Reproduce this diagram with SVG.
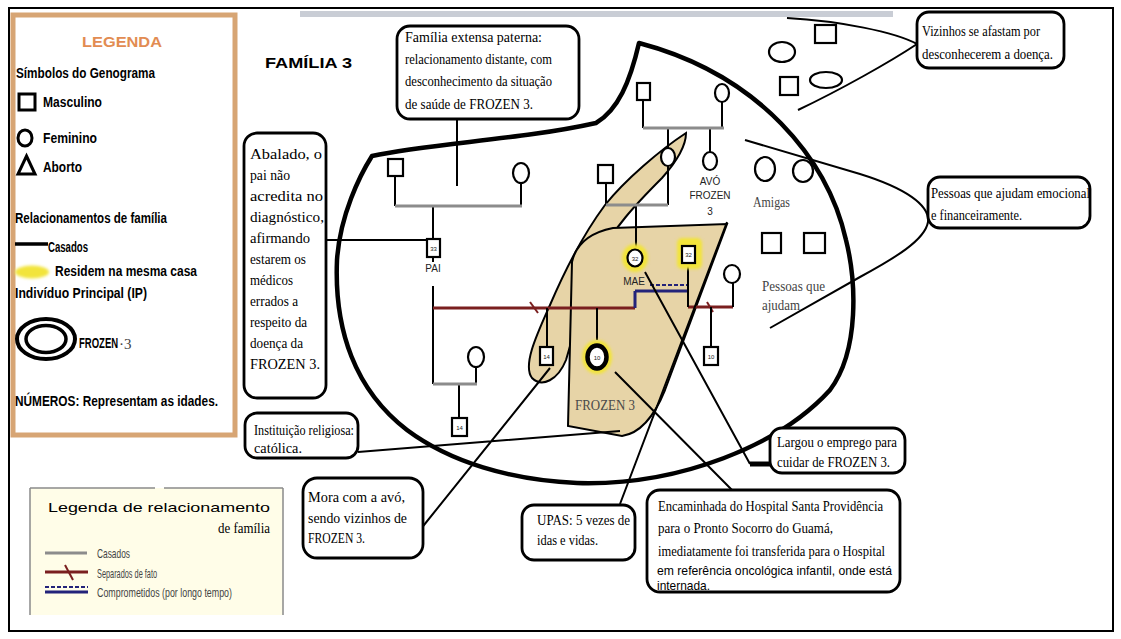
<svg xmlns="http://www.w3.org/2000/svg" width="1121" height="639" viewBox="0 0 1121 639">
<defs>
  <filter id="glow" x="-30%" y="-30%" width="160%" height="160%">
    <feGaussianBlur stdDeviation="1.4"/>
  </filter>
</defs>
<style>
  .box{fill:#fff;stroke:#000;stroke-width:2.8}
  .t{font-family:"Liberation Serif",serif;font-size:15px;fill:#000}
  .ts{font-family:"Liberation Sans",sans-serif;font-size:13px;fill:#000}
  .lg{font-family:"Liberation Sans",sans-serif;font-weight:bold;font-size:14px;fill:#000}
  .lb{font-family:"Liberation Sans",sans-serif;font-size:10px;fill:#222;text-anchor:middle}
  .age{font-family:"Liberation Sans",sans-serif;font-size:6px;fill:#222;text-anchor:middle}
  .ln{stroke:#000;stroke-width:2;fill:none}
  .gray{stroke:#8c8c8c;stroke-width:3;fill:none}
  .red{stroke:#7a1f1f;stroke-width:3;fill:none}
  .navy{stroke:#23237a;stroke-width:3;fill:none}
  .sym{fill:#fff;stroke:#000;stroke-width:2.2}
  .tan{fill:#e7d4a7;stroke:#000;stroke-width:2}
  .halo{fill:#f2e43a;filter:url(#glow)}
  .soft{font-family:"Liberation Serif",serif;font-size:15px;fill:#444}
</style>

<!-- page frame and header bar -->
<rect x="9" y="8" width="1104" height="623" fill="#fff" stroke="#000" stroke-width="2"/>
<rect x="300" y="11" width="593" height="6" fill="#c9cdd5"/>

<!-- symbol legend -->
<g id="legenda">
  <rect x="13" y="15" width="222" height="420" fill="#fff" stroke="#d7a574" stroke-width="5"/>
  <text x="82" y="47" class="lg" font-size="19" style="fill:#e28c52" textLength="80" lengthAdjust="spacingAndGlyphs">LEGENDA</text>
  <text x="16" y="78" class="lg" textLength="139" lengthAdjust="spacingAndGlyphs">Símbolos do Genograma</text>
  <rect x="19" y="94" width="16" height="16" fill="#fff" stroke="#000" stroke-width="3"/>
  <text x="43" y="107" class="lg" textLength="59" lengthAdjust="spacingAndGlyphs">Masculino</text>
  <ellipse cx="25" cy="138" rx="7" ry="8" fill="#fff" stroke="#000" stroke-width="3"/>
  <text x="43" y="143" class="lg" textLength="54" lengthAdjust="spacingAndGlyphs">Feminino</text>
  <polygon points="26.5,156 35,174 18,174" fill="#fff" stroke="#000" stroke-width="3"/>
  <text x="43" y="172" class="lg" textLength="39" lengthAdjust="spacingAndGlyphs">Aborto</text>
  <text x="15" y="223" class="lg" textLength="152" lengthAdjust="spacingAndGlyphs">Relacionamentos de família</text>
  <line x1="15" y1="244" x2="48" y2="244" stroke="#000" stroke-width="3.5"/>
  <text x="48" y="252" class="lg" textLength="40" lengthAdjust="spacingAndGlyphs">Casados</text>
  <ellipse cx="32" cy="272" rx="17" ry="6.5" class="halo"/>
  <text x="55" y="276" class="lg" textLength="142" lengthAdjust="spacingAndGlyphs">Residem na mesma casa</text>
  <text x="15" y="298" class="lg" textLength="132" lengthAdjust="spacingAndGlyphs">Indivíduo Principal  (IP)</text>
  <ellipse cx="46" cy="339" rx="29" ry="20" fill="#fff" stroke="#000" stroke-width="4"/>
  <ellipse cx="46" cy="339" rx="20" ry="13.5" fill="#fff" stroke="#000" stroke-width="3.5"/>
  <text transform="translate(79,348) scale(0.68,1)" class="lg" font-size="13">FROZEN</text>
  <text x="119" y="349" class="t" font-size="16" style="fill:#444">·3</text>
  <text x="15" y="406" class="lg" textLength="203" lengthAdjust="spacingAndGlyphs">NÚMEROS: Representam as idades.</text>
</g>

<!-- relationship legend -->
<g id="legenda-relacionamento">
  <rect x="30" y="488" width="253" height="127" fill="#fffde8"/>
  <path d="M30,488 H155 M164,488 H283 M30,488 V615 M283,488 V615" stroke="#8a8a8a" stroke-width="1.5" fill="none"/>
  <text x="48" y="512" class="ts" font-size="21" textLength="222" lengthAdjust="spacingAndGlyphs">Legenda de relacionamento</text>
  <text x="218" y="533" class="t" font-size="14" textLength="52" lengthAdjust="spacingAndGlyphs">de família</text>
  <line x1="45" y1="553" x2="87" y2="553" class="gray"/>
  <text x="97" y="558" class="ts" font-size="10" style="fill:#444" textLength="33" lengthAdjust="spacingAndGlyphs">Casados</text>
  <line x1="45" y1="572" x2="88" y2="572" class="red"/>
  <line x1="65" y1="565" x2="73" y2="580" stroke="#7a1f1f" stroke-width="2"/>
  <text x="97" y="578" class="ts" font-size="10" style="fill:#444" textLength="60" lengthAdjust="spacingAndGlyphs">Separados de fato</text>
  <line x1="45" y1="587" x2="88" y2="587" stroke="#23237a" stroke-width="2" stroke-dasharray="4 2"/>
  <line x1="45" y1="592" x2="88" y2="592" class="navy"/>
  <text x="97" y="597" class="ts" font-size="10" style="fill:#444" textLength="135" lengthAdjust="spacingAndGlyphs">Comprometidos (por longo tempo)</text>
</g>

<text id="titulo" x="265" y="68" class="lg" font-size="21" textLength="87" lengthAdjust="spacingAndGlyphs">FAMÍLIA 3</text>

<!-- shaded household areas -->
<g id="areas">
  <path class="tan" d="M686,133 C660,150 625,180 605,205 C585,232 565,270 550,305 C538,332 522,365 532,378 C542,388 558,380 566,360 C575,330 582,300 592,270 C610,230 640,200 662,178 C678,160 686,145 686,133 Z"/>
  <path class="tan" d="M613,228 L727,224 L665,390 Q648,432 622,436 L568,426 L572,262 Q578,235 613,228 Z"/>
  <text x="575" y="410" class="t" font-size="16" style="fill:#4a4a4a" textLength="60" lengthAdjust="spacingAndGlyphs">FROZEN 3</text>
</g>

<!-- family boundary -->
<path id="limite-familia" d="M372,156 C360,175 340,215 337,260 C334,330 355,390 407,430 C450,462 510,480 577,483 C680,486 780,445 830,390 C860,350 856,280 846,240 C828,160 760,75 639,43 C630,82 618,110 596,123 C520,140 430,143 372,156 Z" fill="none" stroke="#000" stroke-width="4.5" stroke-linejoin="round"/>

<!-- connectors and family lines -->
<g id="conectores">
  <!-- paternal grandparents -->
  <path class="ln" d="M395,176 V206 M521,183 V206 M433,206 V239 M433,258 V262 M433,286 V384 M476,367 V384 M459,384 V418"/>
  <path class="gray" d="M395,206 H522 M433,384 H477"/>
  <!-- maternal grandparents -->
  <path class="ln" d="M643,100 V128 M722,102 V128 M668,128 V148 M710,128 V152 M606,183 V205 M668,166 V205 M636,205 V249"/>
  <path class="gray" d="M643,128 H724 M606,205 H668"/>
  <!-- separations and commitment -->
  <path class="red" d="M433,308 H635 M688,307 H733"/>
  <line x1="530" y1="302" x2="538" y2="313" stroke="#7a1f1f" stroke-width="2"/>
  <line x1="707" y1="302" x2="713" y2="312" stroke="#7a1f1f" stroke-width="2"/>
  <path class="navy" d="M635,291 H688 M635,291 V308"/>
  <line x1="650" y1="285" x2="688" y2="285" stroke="#23237a" stroke-width="2" stroke-dasharray="4 2"/>
  <path class="ln" d="M688,263 V307 M733,283 V307 M547,308 V347 M597,308 V340 M711,307 V347"/>
  <!-- callout leaders -->
  <path class="ln" d="M457,119 V186 M326,240 H427 M358,452 L620,431 M420,530 L550,368 M620,504 L727,222 M615,372 L732,490 M645,272 L750,464"/>
  <line x1="750" y1="464" x2="771" y2="464" stroke="#000" stroke-width="5"/>
  <path class="ln" d="M787,18 C840,21 895,32 917,44 C890,62 840,90 798,110"/>
  <path class="ln" d="M745,140 L860,174 C905,188 930,205 928,222 C925,240 895,258 860,277 L770,328"/>
</g>

<!-- genogram members -->
<g id="avos-paternos">
  <rect x="388" y="159" width="15" height="17" class="sym"/>
  <ellipse cx="521" cy="173" rx="8" ry="10" class="sym"/>
</g>
<g id="pai">
  <rect x="427" y="239" width="13" height="18" class="sym"/>
  <text x="433.5" y="251" class="age">33</text>
  <text x="433" y="272" class="lb">PAI</text>
</g>
<g id="nova-familia-pai">
  <ellipse cx="476" cy="357" rx="8" ry="10" class="sym"/>
  <rect x="452" y="418" width="15" height="18" class="sym"/>
  <text x="459.5" y="430" class="age">14</text>
</g>
<g id="avos-maternos">
  <rect x="637" y="83" width="13" height="17" class="sym"/>
  <ellipse cx="722" cy="93" rx="7" ry="9" class="sym"/>
  <rect x="598" y="165" width="15" height="18" class="sym"/>
  <ellipse cx="668" cy="157" rx="7" ry="9" class="sym"/>
</g>
<g id="avo">
  <ellipse cx="710" cy="161" rx="7" ry="9" class="sym"/>
  <text x="710" y="185" class="lb" font-size="11">AVÓ</text>
  <text x="710" y="199" class="lb">FROZEN</text>
  <text x="710" y="215" class="lb">3</text>
</g>
<g id="mae">
  <ellipse cx="635" cy="258" rx="13" ry="14" class="halo"/>
  <ellipse cx="635" cy="258" rx="7.5" ry="8.5" class="sym"/>
  <text x="635" y="260.5" class="age">32</text>
  <text x="634" y="285" class="lb">MAE</text>
</g>
<g id="companheiro">
  <rect x="677" y="238" width="25" height="31" rx="5" class="halo"/>
  <rect x="682" y="246" width="13" height="17" class="sym"/>
  <text x="688.5" y="257" class="age">32</text>
</g>
<g id="ex-companheira">
  <ellipse cx="732" cy="274" rx="8" ry="9" class="sym"/>
</g>
<g id="irmao-14">
  <rect x="540" y="347" width="13" height="18" class="sym"/>
  <text x="546.5" y="359" class="age">14</text>
</g>
<g id="irmao-10">
  <rect x="704" y="347" width="14" height="18" class="sym"/>
  <text x="711" y="359" class="age">10</text>
</g>
<g id="frozen3">
  <ellipse cx="597" cy="357" rx="15" ry="17" class="halo"/>
  <ellipse cx="597" cy="357" rx="9.5" ry="11.5" fill="#fff" stroke="#000" stroke-width="4.5"/>
  <text x="597" y="359.5" class="age">10</text>
</g>

<!-- neighbours, friends and helpers -->
<g id="vizinhos">
  <ellipse cx="782" cy="52" rx="13" ry="10" class="sym"/>
  <rect x="815" y="25" width="21" height="18" class="sym"/>
  <rect x="780" y="77" width="18" height="18" class="sym"/>
  <ellipse cx="826" cy="80" rx="16" ry="8" class="sym"/>
</g>
<g id="amigas">
  <ellipse cx="765" cy="169" rx="10" ry="12" class="sym"/>
  <ellipse cx="803" cy="171" rx="10" ry="11" class="sym"/>
  <text x="753" y="207" class="soft" textLength="37" lengthAdjust="spacingAndGlyphs">Amigas</text>
</g>
<g id="pessoas-que-ajudam">
  <rect x="762" y="233" width="19" height="20" class="sym"/>
  <rect x="804" y="233" width="21" height="20" class="sym"/>
  <text x="762" y="291" class="soft" textLength="63" lengthAdjust="spacingAndGlyphs">Pessoas que</text>
  <text x="762" y="310" class="soft" textLength="38" lengthAdjust="spacingAndGlyphs">ajudam</text>
</g>

<!-- callouts -->
<g id="nota-familia-extensa">
  <rect x="397" y="26" width="182" height="93" rx="13" class="box"/>
  <text x="405" y="42" class="t" textLength="137" lengthAdjust="spacingAndGlyphs">Família extensa paterna:</text>
  <text x="405" y="64" class="t" textLength="147" lengthAdjust="spacingAndGlyphs">relacionamento distante, com</text>
  <text x="405" y="86" class="t" textLength="147" lengthAdjust="spacingAndGlyphs">desconhecimento da situação</text>
  <text x="405" y="109" class="t" textLength="128" lengthAdjust="spacingAndGlyphs">de saúde de FROZEN 3.</text>
</g>
<g id="nota-pai">
  <rect x="244" y="133" width="82" height="265" rx="13" class="box"/>
  <text x="250" y="159" class="t" textLength="72" lengthAdjust="spacingAndGlyphs">Abalado, o</text>
  <text x="250" y="180" class="t" textLength="40" lengthAdjust="spacingAndGlyphs">pai não</text>
  <text x="250" y="201" class="t" textLength="73" lengthAdjust="spacingAndGlyphs">acredita no</text>
  <text x="250" y="222" class="t" textLength="74" lengthAdjust="spacingAndGlyphs">diagnóstico,</text>
  <text x="250" y="243" class="t" textLength="60" lengthAdjust="spacingAndGlyphs">afirmando</text>
  <text x="250" y="264" class="t" textLength="56" lengthAdjust="spacingAndGlyphs">estarem os</text>
  <text x="250" y="285" class="t" textLength="43" lengthAdjust="spacingAndGlyphs">médicos</text>
  <text x="250" y="306" class="t" textLength="48" lengthAdjust="spacingAndGlyphs">errados a</text>
  <text x="250" y="327" class="t" textLength="57" lengthAdjust="spacingAndGlyphs">respeito da</text>
  <text x="250" y="348" class="t" textLength="53" lengthAdjust="spacingAndGlyphs">doença da</text>
  <text x="250" y="369" class="t" textLength="70" lengthAdjust="spacingAndGlyphs">FROZEN 3.</text>
</g>
<g id="nota-religiao">
  <rect x="245" y="413" width="113" height="45" rx="12" class="box"/>
  <text x="254" y="435" class="t" textLength="100" lengthAdjust="spacingAndGlyphs">Instituição religiosa:</text>
  <text x="254" y="453" class="t" textLength="48" lengthAdjust="spacingAndGlyphs">católica.</text>
</g>
<g id="nota-irmao">
  <rect x="303" y="478" width="120" height="80" rx="14" class="box"/>
  <text x="308" y="502" class="t" textLength="97" lengthAdjust="spacingAndGlyphs">Mora com a avó,</text>
  <text x="308" y="523" class="t" textLength="99" lengthAdjust="spacingAndGlyphs">sendo vizinhos de</text>
  <text x="308" y="543" class="t" textLength="57" lengthAdjust="spacingAndGlyphs">FROZEN 3.</text>
</g>
<g id="nota-upas">
  <rect x="522" y="505" width="113" height="55" rx="12" class="box"/>
  <text x="537" y="525" class="t" textLength="93" lengthAdjust="spacingAndGlyphs">UPAS: 5 vezes de</text>
  <text x="537" y="545" class="t" textLength="61" lengthAdjust="spacingAndGlyphs">idas e vidas.</text>
</g>
<g id="nota-hospital">
  <rect x="647" y="490" width="253" height="102" rx="13" class="box"/>
  <text x="658" y="511" class="t" textLength="225" lengthAdjust="spacingAndGlyphs">Encaminhada do Hospital Santa Providência</text>
  <text x="658" y="533" class="t" textLength="175" lengthAdjust="spacingAndGlyphs">para o Pronto Socorro do Guamá,</text>
  <text x="658" y="556" class="t" textLength="227" lengthAdjust="spacingAndGlyphs">imediatamente foi transferida para o Hospital</text>
  <text x="657" y="575" class="ts" textLength="235" lengthAdjust="spacingAndGlyphs">em referência oncológica infantil, onde está</text>
  <text x="657" y="590" class="ts" textLength="53" lengthAdjust="spacingAndGlyphs">internada.</text>
</g>
<g id="nota-mae">
  <rect x="770" y="428" width="135" height="45" rx="12" class="box"/>
  <text x="777" y="447" class="t" textLength="120" lengthAdjust="spacingAndGlyphs">Largou o emprego para</text>
  <text x="777" y="467" class="t" textLength="113" lengthAdjust="spacingAndGlyphs">cuidar de FROZEN 3.</text>
</g>
<g id="nota-vizinhos">
  <rect x="917" y="12" width="147" height="56" rx="12" class="box"/>
  <text x="922" y="36" class="t" textLength="118" lengthAdjust="spacingAndGlyphs">Vizinhos se afastam por</text>
  <text x="922" y="59" class="t" textLength="131" lengthAdjust="spacingAndGlyphs">desconhecerem a doença.</text>
</g>
<g id="nota-ajuda">
  <rect x="928" y="177" width="162" height="51" rx="12" class="box"/>
  <text x="931" y="198" class="t" textLength="159" lengthAdjust="spacingAndGlyphs">Pessoas que ajudam emocional</text>
  <text x="931" y="220" class="t" textLength="91" lengthAdjust="spacingAndGlyphs">e financeiramente.</text>
</g>
</svg>
